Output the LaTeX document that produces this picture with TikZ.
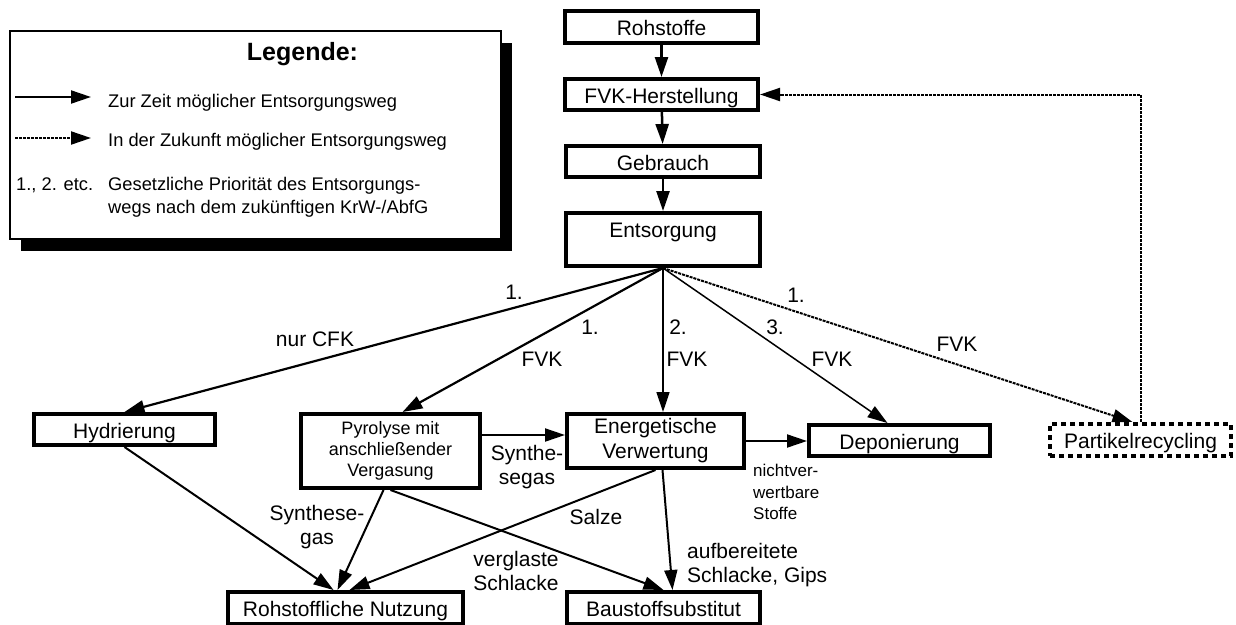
\documentclass[tikz,border=0pt]{standalone}
\usepackage{fontspec}
\setmainfont{Liberation Sans}
\usetikzlibrary{arrows.meta, calc, positioning, shadows}
\tikzset{
	kasten/.style={draw, line width=4pt, inner sep=0pt, font=\fontsize{21}{25}\selectfont},
	einzeilig/.style={text height=21pt, text depth=4pt},
	zukunftkasten/.style={kasten, dash pattern=on 5pt off 4pt},
	beschr/.style={inner sep=0pt, font=\fontsize{21}{24}\selectfont, align=center},
	legtext/.style={inner sep=0pt, font=\fontsize{18.3}{23}\selectfont, align=left},
	pfeil/.style={-{Triangle[length=20pt,width=13pt]}, line width=2pt},
	pfeilduenn/.style={pfeil, line width=1.5pt},
	zukunft/.style={pfeil, dash pattern=on 3pt off 1pt}
}

\begin{document}
\begin{tikzpicture}[x=1pt,y=-1pt]
\useasboundingbox (0,0) rectangle (1236,624);
% Legende
\node[draw, line width=2pt, fill=white, minimum width=491pt, minimum height=208pt,
	general shadow={fill=black, shadow xshift=11pt, shadow yshift=-12pt}] (legende) at (255.5,135) {};
\node[anchor=base, inner sep=0pt, font=\fontsize{25}{30}\selectfont\bfseries] (legtitel) at (302.5,60) {Legende:};
\coordinate (l1a) at (15,97);
\coordinate (l1b) at (91,97);
\coordinate (l2a) at (15,138);
\coordinate (l2b) at (91,138);
\draw[pfeil] (l1a) -- (l1b);
\draw[zukunft] (l2a) -- (l2b);
\node[legtext, anchor=base west] (zeile1) at (108,107.5) {Zur Zeit möglicher Entsorgungsweg};
\node[legtext, anchor=base west] (zeile2) at (108,146) {In der Zukunft möglicher Entsorgungsweg};
\node[legtext, anchor=base west] (prio) at (16,190) {1., 2. etc.};
\node[legtext, anchor=west] (priotext) at (108,197) {Gesetzliche Priorität des Entsorgungs-\\wegs nach dem zukünftigen KrW-/AbfG};

% Lebenszyklus
\node[kasten, einzeilig, minimum width=193pt, minimum height=32pt] (rohstoffe) at (661.5,27) {Rohstoffe};
\node[kasten, einzeilig, minimum width=193pt, minimum height=31pt] (fvk) at (661.5,94.5) {FVK-Herstellung};
\node[kasten, einzeilig, minimum width=194pt, minimum height=31pt] (gebrauch) at (663,161.5) {Gebrauch};
\node[kasten, text height=20pt, text depth=24pt, minimum width=194pt, minimum height=53pt] (entsorgung) at (663,239.5) {Entsorgung};

% Entsorgungswege
\node[kasten, einzeilig, minimum width=181pt, minimum height=31pt] (hydrierung) at (124.5,429.5) {Hydrierung};
\node[kasten, align=center, font=\fontsize{18}{21}\selectfont, minimum width=179pt, minimum height=74pt] (pyrolyse) at (390.5,451) {Pyrolyse mit\\anschließender\\Vergasung};
\node[kasten, align=center, font=\fontsize{21}{25}\selectfont, minimum width=177pt, minimum height=54pt] (energie) at (655.5,441) {Energetische\\Verwertung};
\node[kasten, einzeilig, minimum width=181pt, minimum height=31pt] (deponie) at (899.5,440.5) {Deponierung};
\node[zukunftkasten, einzeilig, minimum width=181pt, minimum height=32pt] (partikel) at (1140.5,440) {Partikelrecycling};
\node[kasten, einzeilig, minimum width=235pt, minimum height=32pt] (rohnutzung) at (345.5,608) {Rohstoffliche Nutzung};
\node[kasten, einzeilig, minimum width=193pt, minimum height=32pt] (baustoff) at (663.5,608) {Baustoffsubstitut};

\draw[pfeil, line width=2.5pt] (rohstoffe) -- (fvk);
\draw[pfeil, line width=2.5pt] (fvk) -- (gebrauch);
\draw[pfeil, line width=2.5pt] (gebrauch) -- (entsorgung);

\draw[pfeil, line width=2.2pt] (entsorgung.south) -- (hydrierung.north);
\draw[pfeil, line width=2.2pt] (entsorgung.south) -- ([xshift=12pt]pyrolyse.north);
\draw[pfeilduenn] (entsorgung.south) -- (entsorgung.south |- energie.north);
\draw[pfeilduenn] (entsorgung.south) -- ([xshift=-12pt]deponie.north);
\draw[zukunft] (entsorgung.south) -- ([xshift=-8pt]partikel.north);
\draw[zukunft] (partikel.north) |- (fvk.east);

\draw[pfeil] ([yshift=16pt]pyrolyse.east) -- ([yshift=16pt]pyrolyse.east -| energie.west);
\draw[pfeil] (energie.east) -- (energie.east -| deponie.west);

\draw[pfeil] (hydrierung.south) -- ([xshift=-12pt]rohnutzung.north);
\draw[pfeil] ([xshift=-7pt]pyrolyse.south) -- ([xshift=-8pt]rohnutzung.north);
\draw[pfeil] (energie.south) -- ([xshift=4pt]rohnutzung.north);
\draw[pfeil] (pyrolyse.south) -- (baustoff.north);
\draw[pfeil] ([xshift=7pt]energie.south) -- ([xshift=9pt]baustoff.north);

% Beschriftungen
\node[beschr, anchor=base] (p1) at (514,299) {1.};
\node[beschr, anchor=base] (cfk) at (315,346) {nur CFK};
\node[beschr, anchor=base] (p2) at (590,334) {1.};
\node[beschr, anchor=base] (fvk1) at (542,366) {FVK};
\node[beschr, anchor=base] (p3) at (678,334) {2.};
\node[beschr, anchor=base] (fvk2) at (687,366) {FVK};
\node[beschr, anchor=base] (p4) at (775,334) {3.};
\node[beschr, anchor=base] (fvk3) at (832,366) {FVK};
\node[beschr, anchor=base] (p5) at (796,302) {1.};
\node[beschr, anchor=base] (fvk4) at (957,351) {FVK};

\node[beschr] (gas1) at (317,527) {Synthese-\\gas};
\node[beschr] (gas2) at (527,467.5) {Synthe-\\segas};
\node[beschr, anchor=base] (salze) at (596,524) {Salze};
\node[beschr] (glas) at (516,571) {verglaste\\Schlacke};
\node[beschr, anchor=west, align=left] (gips) at (687,565) {aufbereitete\\Schlacke, Gips};
\node[beschr, anchor=west, align=left, font=\fontsize{17}{21.5}\selectfont] (rest) at (753,492) {nichtver-\\wertbare\\Stoffe};
\end{tikzpicture}
\end{document}
